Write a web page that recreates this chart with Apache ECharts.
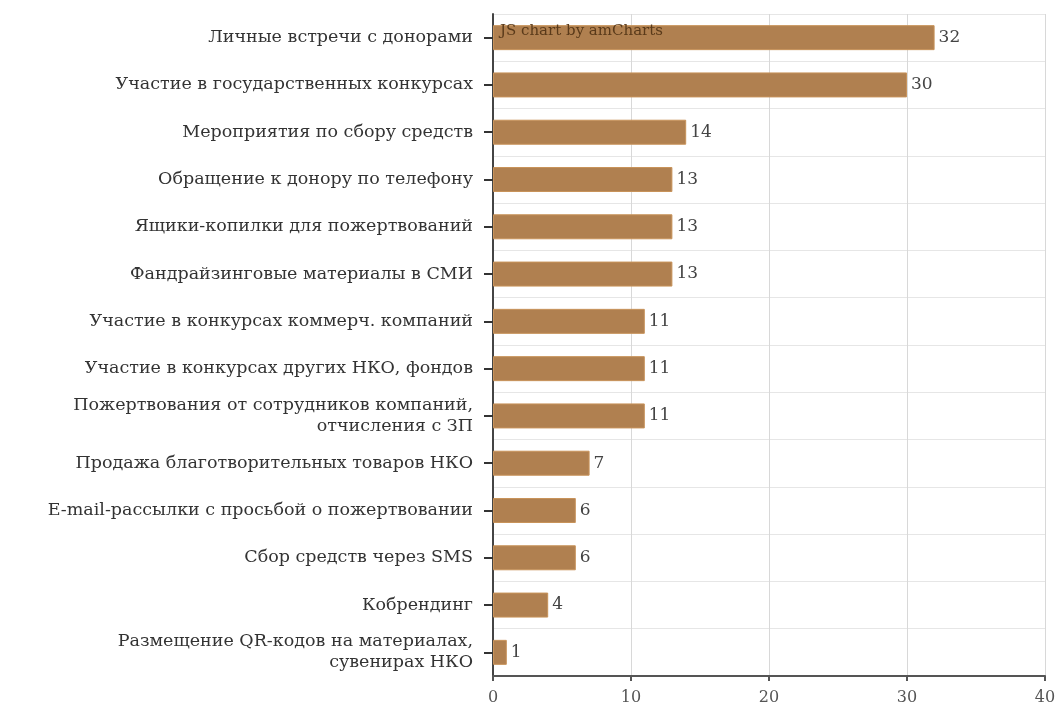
<!DOCTYPE html>
<html><head><meta charset="utf-8">
<script src="https://cdn.jsdelivr.net/npm/echarts@6/dist/echarts.min.js"></script>
<style>html,body{margin:0;padding:0;background:#fff}#c{width:1059px;height:715px}</style>
</head><body><div id="c"></div>
<script>
const categories = [
  "Личные встречи с донорами",
  "Участие в государственных конкурсах",
  "Мероприятия по сбору средств",
  "Обращение к донору по телефону",
  "Ящики-копилки для пожертвований",
  "Фандрайзинговые материалы в СМИ",
  "Участие в конкурсах коммерч. компаний",
  "Участие в конкурсах других НКО, фондов",
  "Пожертвования от сотрудников компаний,\nотчисления с ЗП",
  "Продажа благотворительных товаров НКО",
  "E-mail-рассылки с просьбой о пожертвовании",
  "Сбор средств через SMS",
  "Кобрендинг",
  "Размещение QR-кодов на материалах,\nсувенирах НКО"
];
const values = [32, 30, 14, 13, 13, 13, 11, 11, 11, 7, 6, 6, 4, 1];
const xTicks = [0, 10, 20, 30, 40];

const font = "'DejaVu Serif', 'Liberation Serif', serif";
const chart = echarts.init(document.getElementById('c'));
chart.setOption({
  animation: false,
  grid: {left: 493, right: 14, top: 14, bottom: 39, containLabel: false},
  xAxis: {
    type: 'value', min: xTicks[0], max: xTicks[xTicks.length-1], interval: 10,
    axisLine: {show: true, lineStyle: {color: '#555', width: 2}},
    axisTick: {show: true, length: 5, lineStyle: {color: '#555', width: 2}},
    axisLabel: {color: '#555', fontFamily: font, fontSize: 16, margin: 14},
    splitLine: {show: true, lineStyle: {color: '#d8d8d8'}}
  },
  yAxis: {
    type: 'category', data: categories, inverse: true,
    axisLine: {show: true, lineStyle: {color: '#444', width: 2}},
    axisTick: {show: true, alignWithLabel: true, length: 9, lineStyle: {color: '#333', width: 2}},
    axisLabel: {color: '#333', fontFamily: font, fontSize: 17.5, margin: 20, lineHeight: 21, align: 'right'},
    splitLine: {show: true, lineStyle: {color: '#e6e6e6'}}
  },
  series: [{
    type: 'bar', data: values, barWidth: 25,
    itemStyle: {color: '#B08050', borderColor: '#C8935A', borderWidth: 1},
    label: {show: true, position: 'right', distance: 4, color: '#444', fontFamily: font, fontSize: 17}
  }],
  graphic: [{
    type: 'text', left: 500, top: 24, z: 100,
    style: {text: 'JS chart by amCharts', fill: '#5a3a1a', font: "15px 'DejaVu Serif', serif"}
  }]
});
</script></body></html>
